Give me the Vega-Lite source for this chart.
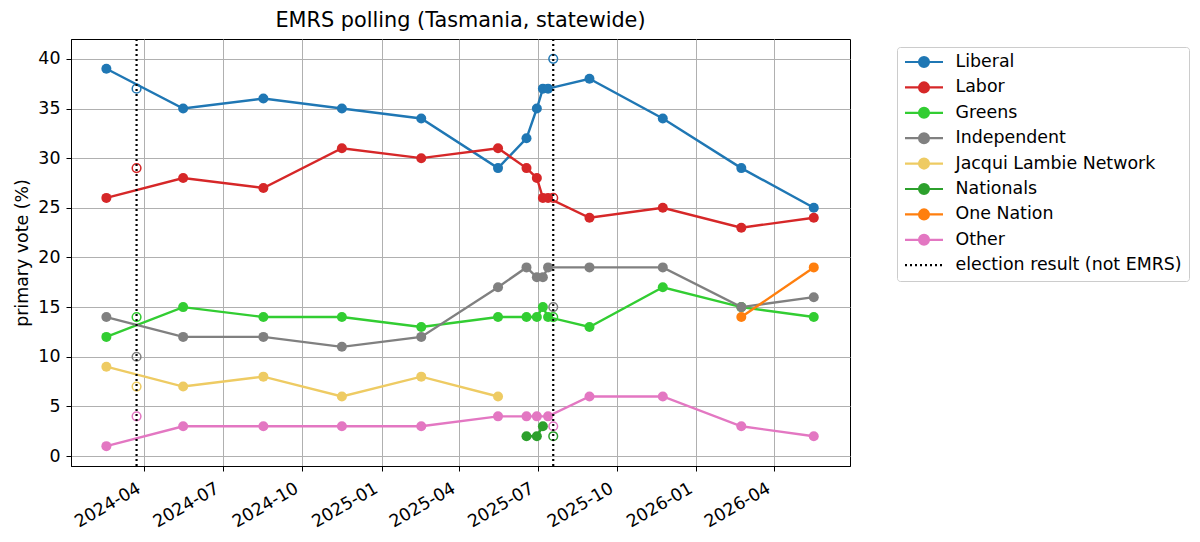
{
  "$schema": "https://vega.github.io/schema/vega-lite/v6.json",
  "description": "EMRS primary vote polling for Tasmania with state election results marked.",
  "autosize": "none",
  "width": 779,
  "height": 427,
  "padding": {"left": 71, "top": 39, "right": 350, "bottom": 76},
  "title": {
    "text": "EMRS polling (Tasmania, statewide)",
    "fontSize": 20.8,
    "fontWeight": "normal",
    "baseline": "alphabetic",
    "offset": 11,
    "dy": 21,
    "anchor": "middle",
    "color": "black"
  },
  "data": {
    "values": [
      {"date": "2024-02-17", "party": "Liberal", "vote": 39, "kind": "poll"},
      {"date": "2024-05-16", "party": "Liberal", "vote": 35, "kind": "poll"},
      {"date": "2024-08-17", "party": "Liberal", "vote": 36, "kind": "poll"},
      {"date": "2024-11-16", "party": "Liberal", "vote": 35, "kind": "poll"},
      {"date": "2025-02-16", "party": "Liberal", "vote": 34, "kind": "poll"},
      {"date": "2025-05-16", "party": "Liberal", "vote": 29, "kind": "poll"},
      {"date": "2025-06-18", "party": "Liberal", "vote": 32, "kind": "poll"},
      {"date": "2025-06-30", "party": "Liberal", "vote": 35, "kind": "poll"},
      {"date": "2025-07-07", "party": "Liberal", "vote": 37, "kind": "poll"},
      {"date": "2025-07-13", "party": "Liberal", "vote": 37, "kind": "poll"},
      {"date": "2025-08-30", "party": "Liberal", "vote": 38, "kind": "poll"},
      {"date": "2025-11-23", "party": "Liberal", "vote": 34, "kind": "poll"},
      {"date": "2026-02-22", "party": "Liberal", "vote": 29, "kind": "poll"},
      {"date": "2026-05-17", "party": "Liberal", "vote": 25, "kind": "poll"},
      {"date": "2024-02-17", "party": "Labor", "vote": 26, "kind": "poll"},
      {"date": "2024-05-16", "party": "Labor", "vote": 28, "kind": "poll"},
      {"date": "2024-08-17", "party": "Labor", "vote": 27, "kind": "poll"},
      {"date": "2024-11-16", "party": "Labor", "vote": 31, "kind": "poll"},
      {"date": "2025-02-16", "party": "Labor", "vote": 30, "kind": "poll"},
      {"date": "2025-05-16", "party": "Labor", "vote": 31, "kind": "poll"},
      {"date": "2025-06-18", "party": "Labor", "vote": 29, "kind": "poll"},
      {"date": "2025-06-30", "party": "Labor", "vote": 28, "kind": "poll"},
      {"date": "2025-07-07", "party": "Labor", "vote": 26, "kind": "poll"},
      {"date": "2025-07-13", "party": "Labor", "vote": 26, "kind": "poll"},
      {"date": "2025-08-30", "party": "Labor", "vote": 24, "kind": "poll"},
      {"date": "2025-11-23", "party": "Labor", "vote": 25, "kind": "poll"},
      {"date": "2026-02-22", "party": "Labor", "vote": 23, "kind": "poll"},
      {"date": "2026-05-17", "party": "Labor", "vote": 24, "kind": "poll"},
      {"date": "2024-02-17", "party": "Greens", "vote": 12, "kind": "poll"},
      {"date": "2024-05-16", "party": "Greens", "vote": 15, "kind": "poll"},
      {"date": "2024-08-17", "party": "Greens", "vote": 14, "kind": "poll"},
      {"date": "2024-11-16", "party": "Greens", "vote": 14, "kind": "poll"},
      {"date": "2025-02-16", "party": "Greens", "vote": 13, "kind": "poll"},
      {"date": "2025-05-16", "party": "Greens", "vote": 14, "kind": "poll"},
      {"date": "2025-06-18", "party": "Greens", "vote": 14, "kind": "poll"},
      {"date": "2025-06-30", "party": "Greens", "vote": 14, "kind": "poll"},
      {"date": "2025-07-07", "party": "Greens", "vote": 15, "kind": "poll"},
      {"date": "2025-07-13", "party": "Greens", "vote": 14, "kind": "poll"},
      {"date": "2025-08-30", "party": "Greens", "vote": 13, "kind": "poll"},
      {"date": "2025-11-23", "party": "Greens", "vote": 17, "kind": "poll"},
      {"date": "2026-02-22", "party": "Greens", "vote": 15, "kind": "poll"},
      {"date": "2026-05-17", "party": "Greens", "vote": 14, "kind": "poll"},
      {"date": "2024-02-17", "party": "Independent", "vote": 14, "kind": "poll"},
      {"date": "2024-05-16", "party": "Independent", "vote": 12, "kind": "poll"},
      {"date": "2024-08-17", "party": "Independent", "vote": 12, "kind": "poll"},
      {"date": "2024-11-16", "party": "Independent", "vote": 11, "kind": "poll"},
      {"date": "2025-02-16", "party": "Independent", "vote": 12, "kind": "poll"},
      {"date": "2025-05-16", "party": "Independent", "vote": 17, "kind": "poll"},
      {"date": "2025-06-18", "party": "Independent", "vote": 19, "kind": "poll"},
      {"date": "2025-06-30", "party": "Independent", "vote": 18, "kind": "poll"},
      {"date": "2025-07-07", "party": "Independent", "vote": 18, "kind": "poll"},
      {"date": "2025-07-13", "party": "Independent", "vote": 19, "kind": "poll"},
      {"date": "2025-08-30", "party": "Independent", "vote": 19, "kind": "poll"},
      {"date": "2025-11-23", "party": "Independent", "vote": 19, "kind": "poll"},
      {"date": "2026-02-22", "party": "Independent", "vote": 15, "kind": "poll"},
      {"date": "2026-05-17", "party": "Independent", "vote": 16, "kind": "poll"},
      {"date": "2024-02-17", "party": "Jacqui Lambie Network", "vote": 9, "kind": "poll"},
      {"date": "2024-05-16", "party": "Jacqui Lambie Network", "vote": 7, "kind": "poll"},
      {"date": "2024-08-17", "party": "Jacqui Lambie Network", "vote": 8, "kind": "poll"},
      {"date": "2024-11-16", "party": "Jacqui Lambie Network", "vote": 6, "kind": "poll"},
      {"date": "2025-02-16", "party": "Jacqui Lambie Network", "vote": 8, "kind": "poll"},
      {"date": "2025-05-16", "party": "Jacqui Lambie Network", "vote": 6, "kind": "poll"},
      {"date": "2025-06-18", "party": "Nationals", "vote": 2, "kind": "poll"},
      {"date": "2025-06-30", "party": "Nationals", "vote": 2, "kind": "poll"},
      {"date": "2025-07-07", "party": "Nationals", "vote": 3, "kind": "poll"},
      {"date": "2026-02-22", "party": "One Nation", "vote": 14, "kind": "poll"},
      {"date": "2026-05-17", "party": "One Nation", "vote": 19, "kind": "poll"},
      {"date": "2024-02-17", "party": "Other", "vote": 1, "kind": "poll"},
      {"date": "2024-05-16", "party": "Other", "vote": 3, "kind": "poll"},
      {"date": "2024-08-17", "party": "Other", "vote": 3, "kind": "poll"},
      {"date": "2024-11-16", "party": "Other", "vote": 3, "kind": "poll"},
      {"date": "2025-02-16", "party": "Other", "vote": 3, "kind": "poll"},
      {"date": "2025-05-16", "party": "Other", "vote": 4, "kind": "poll"},
      {"date": "2025-06-18", "party": "Other", "vote": 4, "kind": "poll"},
      {"date": "2025-06-30", "party": "Other", "vote": 4, "kind": "poll"},
      {"date": "2025-07-13", "party": "Other", "vote": 4, "kind": "poll"},
      {"date": "2025-08-30", "party": "Other", "vote": 6, "kind": "poll"},
      {"date": "2025-11-23", "party": "Other", "vote": 6, "kind": "poll"},
      {"date": "2026-02-22", "party": "Other", "vote": 3, "kind": "poll"},
      {"date": "2026-05-17", "party": "Other", "vote": 2, "kind": "poll"},
      {"date": "2024-03-23", "party": "Liberal", "vote": 37, "kind": "result"},
      {"date": "2024-03-23", "party": "Labor", "vote": 29, "kind": "result"},
      {"date": "2024-03-23", "party": "Greens", "vote": 14, "kind": "result"},
      {"date": "2024-03-23", "party": "Independent", "vote": 10, "kind": "result"},
      {"date": "2024-03-23", "party": "Jacqui Lambie Network", "vote": 7, "kind": "result"},
      {"date": "2024-03-23", "party": "Other", "vote": 4, "kind": "result"},
      {"date": "2025-07-19", "party": "Liberal", "vote": 40, "kind": "result"},
      {"date": "2025-07-19", "party": "Labor", "vote": 26, "kind": "result"},
      {"date": "2025-07-19", "party": "Greens", "vote": 14, "kind": "result"},
      {"date": "2025-07-19", "party": "Independent", "vote": 15, "kind": "result"},
      {"date": "2025-07-19", "party": "Nationals", "vote": 2, "kind": "result"},
      {"date": "2025-07-19", "party": "Other", "vote": 3, "kind": "result"},
      {"date": "2024-03-23", "party": "election result (not EMRS)", "kind": "election"},
      {"date": "2025-07-19", "party": "election result (not EMRS)", "kind": "election"}
    ]
  },
  "encoding": {
    "x": {
      "field": "date",
      "type": "temporal",
      "scale": {
        "type": "utc",
        "domain": [
          {"year": 2024, "month": 1, "date": 7, "utc": true},
          {"year": 2026, "month": 6, "date": 28, "utc": true}
        ]
      },
      "axis": {
        "title": null,
        "format": "%Y-%m",
        "values": [
          {"year": 2024, "month": 4, "date": 1, "utc": true},
          {"year": 2024, "month": 7, "date": 1, "utc": true},
          {"year": 2024, "month": 10, "date": 1, "utc": true},
          {"year": 2025, "month": 1, "date": 1, "utc": true},
          {"year": 2025, "month": 4, "date": 1, "utc": true},
          {"year": 2025, "month": 7, "date": 1, "utc": true},
          {"year": 2025, "month": 10, "date": 1, "utc": true},
          {"year": 2026, "month": 1, "date": 1, "utc": true},
          {"year": 2026, "month": 4, "date": 1, "utc": true}
        ],
        "labelAngle": -30,
        "labelAlign": "right",
        "labelBaseline": "top",
        "labelPadding": 8,
        "labelOffset": -10
      }
    },
    "color": {
      "field": "party",
      "type": "nominal",
      "scale": {
        "domain": ["Liberal", "Labor", "Greens", "Independent", "Jacqui Lambie Network", "Nationals", "One Nation", "Other", "election result (not EMRS)"],
        "range": ["#1f77b4", "#d62728", "#32cd32", "#808080", "#eecb63", "#2ca02c", "#ff7f0e", "#e377c2", "#000000"]
      },
      "legend": {
        "title": null,
        "orient": "none",
        "legendX": 826,
        "legendY": 8,
        "symbolType": "M-1,0H-0.26M0.26,0H1M-0.26,0A0.26,0.26,0,1,1,0.26,0A0.26,0.26,0,1,1,-0.26,0Z",
        "symbolSize": 1444,
        "symbolStrokeWidth": 2.2,
        "clipHeight": 17,
        "rowPadding": 7.4,
        "labelFontSize": 17.4,
        "labelLimit": 400,
        "labelOffset": 11,
        "labelColor": "black",
        "padding": 6.5,
        "fillColor": "white",
        "strokeColor": "#cccccc",
        "cornerRadius": 3,
        "encoding": {
          "symbols": {
            "shape": {"value": {"expr": "datum.value === 'election result (not EMRS)' ? 'M-1,0H1' : 'M-1,0H-0.26M0.26,0H1M-0.26,0A0.26,0.26,0,1,1,0.26,0A0.26,0.26,0,1,1,-0.26,0Z'"}},
            "strokeDash": {"value": {"expr": "datum.value === 'election result (not EMRS)' ? [2, 3] : []"}},
            "fill": {"value": {"expr": "scale('color', datum.value)"}},
            "stroke": {"value": {"expr": "scale('color', datum.value)"}}
          }
        }
      }
    }
  },
  "layer": [
    {
      "transform": [{"filter": "datum.kind === 'poll'"}],
      "mark": {"type": "line", "strokeWidth": 2.4},
      "encoding": {
        "y": {
          "field": "vote",
          "type": "quantitative",
          "scale": {"domain": [-1, 42], "nice": false, "zero": false},
          "axis": {
            "title": "primary vote (%)",
            "values": [0, 5, 10, 15, 20, 25, 30, 35, 40],
            "labelPadding": 6,
            "titleAngle": -90,
            "titleX": -49,
            "titleY": 213.5,
            "titleAlign": "center",
            "titleBaseline": "middle"
          }
        }
      }
    },
    {
      "transform": [{"filter": "datum.kind === 'poll'"}],
      "mark": {"type": "point", "filled": true, "size": 100, "opacity": 1},
      "encoding": {
        "y": {"field": "vote", "type": "quantitative", "scale": {"domain": [-1, 42], "nice": false, "zero": false}}
      }
    },
    {
      "transform": [{"filter": "datum.kind === 'result'"}],
      "mark": {"type": "point", "filled": false, "size": 75, "strokeWidth": 1.5, "opacity": 1},
      "encoding": {
        "y": {"field": "vote", "type": "quantitative", "scale": {"domain": [-1, 42], "nice": false, "zero": false}}
      }
    },
    {
      "transform": [{"filter": "datum.kind === 'election'"}],
      "mark": {"type": "rule", "strokeWidth": 2.2, "strokeDash": [2, 3]},
      "encoding": {}
    }
  ],
  "config": {
    "font": "DejaVu Sans",
    "view": {"stroke": "black", "strokeWidth": 1},
    "axis": {
      "grid": true,
      "gridColor": "#b0b0b0",
      "gridWidth": 1,
      "gridOpacity": 1,
      "domainColor": "black",
      "tickColor": "black",
      "tickSize": 5,
      "tickWidth": 1,
      "labelFontSize": 17.4,
      "labelColor": "black",
      "titleFontSize": 17.4,
      "titleFontWeight": "normal",
      "titleColor": "black"
    }
  }
}
